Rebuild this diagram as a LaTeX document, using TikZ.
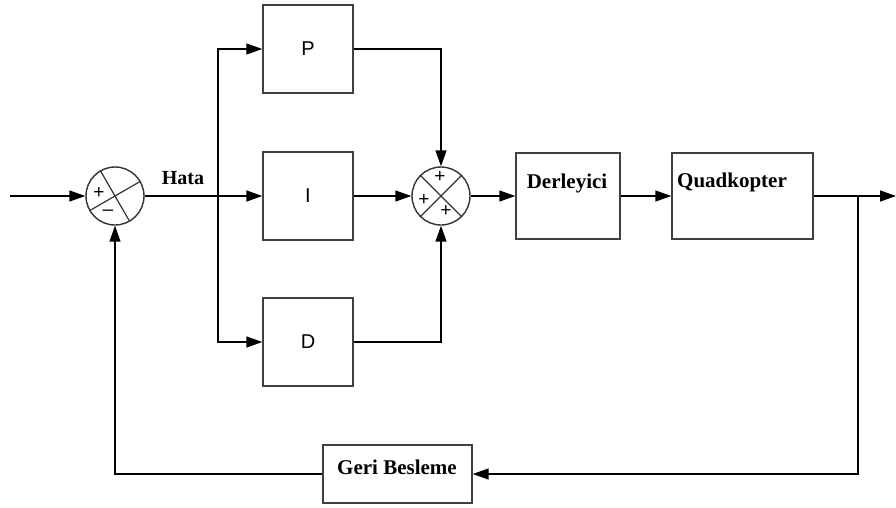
\documentclass[tikz,border=0pt]{standalone}
\usepackage{fontspec}
\setmainfont{Liberation Serif}
\newfontfamily\arialf{Liberation Sans}
\usetikzlibrary{arrows.meta,calc}
\begin{document}
\begin{tikzpicture}[x=1pt,y=-1pt, line width=1.5pt,
  box/.style={draw=black!75, line width=1.4pt, inner sep=0pt, font=\arialf\fontsize{20}{20}\selectfont},
  sumc/.style={draw=black!80, circle, minimum size=58pt, inner sep=0pt, line width=1.4pt},
  arr/.style={-{Triangle[length=16pt,width=11pt]}},
  lbl/.style={font=\bfseries\fontsize{21}{21}\selectfont, inner sep=0pt},
  sgn/.style={font=\arialf\fontsize{19}{19}\selectfont, inner sep=0pt}]
\useasboundingbox (0,0) rectangle (896,507);
% summing junctions
\node[sumc] (s1) at (115,196) {};
\draw[line width=1.2pt, black!80] (s1.30) -- (s1.210) (s1.120) -- (s1.300);
\node[sgn] (s1p) at ($(s1)+(-16,-3)$) {+};
\node[sgn] (s1m) at ($(s1)+(-7,17)$) {\textendash};
\node[sumc] (s2) at (441,196) {};
\draw[line width=1.2pt, black!80] (s2.45) -- (s2.225) (s2.135) -- (s2.315);
\node[sgn] (s2a) at ($(s2)+(-1,-19)$) {+};
\node[sgn] (s2b) at ($(s2)+(-17,4)$) {+};
\node[sgn] (s2c) at ($(s2)+(5,15)$) {+};
% blocks
\node[box, minimum width=90pt, minimum height=88pt] (P) at (308,49) {P};
\node[box, minimum width=90pt, minimum height=88pt] (I) at (308,196) {I};
\node[box, minimum width=90pt, minimum height=88pt] (D) at (308,342) {D};
\node[box, minimum width=104pt, minimum height=86pt] (der) at (568,196) {};
\node[lbl] (dert) at (567,183) {Derleyici};
\node[box, minimum width=141pt, minimum height=86pt] (quad) at (742.5,196) {};
\node[lbl] (quadt) at (732,182) {Quadkopter};
\node[box, minimum width=149pt, minimum height=58pt] (geri) at (397.5,474) {};
\node[lbl] (gerit) at (397,467) {Geri Besleme};
\node[lbl, font=\bfseries\fontsize{20}{20}\selectfont] (hata) at (183,178) {Hata};
% coordinates
\coordinate (in) at (10,196);
\coordinate (br) at (218,196);
\coordinate (out) at (896,196);
\coordinate (fb) at (858,196);
% connectors
\draw[arr] (in) -- (s1.west);
\draw[arr] (s1.east) -- (I.west);
\draw[arr] (br) |- (P.west);
\draw[arr] (br) |- (D.west);
\draw[arr] (P.east) -| (s2.north);
\draw[arr] (D.east) -| (s2.south);
\draw[arr] (I.east) -- (s2.west);
\draw[arr] (s2.east) -- (der.west);
\draw[arr] (der.east) -- (quad.west);
\draw[arr] (quad.east) -- (out);
\draw[arr] (fb) |- (geri.east);
\draw[arr] (geri.west) -| (s1.south);
\end{tikzpicture}
\end{document}
